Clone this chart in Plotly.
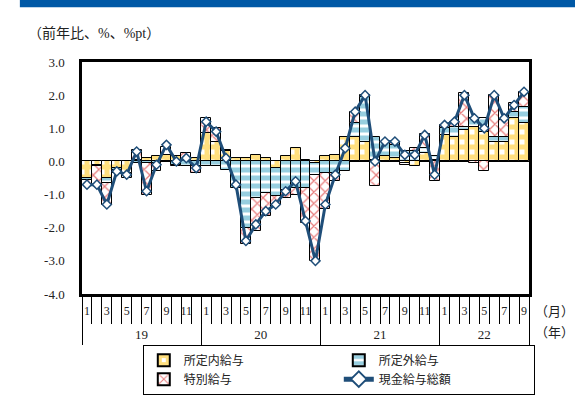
import plotly.graph_objects as go

# Datos: variación interanual (%, pt), enero 2019 - septiembre 2022
anios = ['19', '20', '21', '22']
meses_por_anio = [12, 12, 12, 9]
etiquetas_mes = (['1', '', '3', '', '5', '', '7', '', '9', '', '11', ''] * 3
                 + ['1', '', '3', '', '5', '', '7', '', '9'])
etiquetas_y = ['-4.0', '-3.0', '-2.0', '-1.0', '0.0', '1.0', '2.0', '3.0']
valores_y = [-4, -3, -2, -1, 0, 1, 2, 3]

shoteinai = [-0.5, -0.1, -0.5, -0.2, -0.35, 0.05, 0.1, 0.15, 0.2, 0.15, 0.05, 0.1,
             0.85, 0.6, 0.3, 0.1, 0.1, 0.2, 0.1, -0.2, 0.15, 0.4, 0.05, -0.05,
             0.15, 0.2, 0.75, 0.75, 0.6, 0.05, 0.15, 0.1, -0.05, -0.15, 0.25, 0.05,
             0.8, 0.75, 0.95, 1.05, 0.9, 0.6, 0.6, 1.3, 1.15]
shoteigai = [-0.05, -0.05, -0.15, -0.05, -0.05, -0.05, -0.05, -0.05, 0.0, -0.1, -0.15, -0.15,
             -0.15, -0.15, -0.25, -0.8, -2.0, -1.1, -0.95, -0.85, -0.85, -0.8, -0.8, -0.35,
             -0.35, -0.35, -0.3, 0.4, 1.35, 0.7, 0.45, 0.4, 0.3, 0.3, 0.15, 0.1,
             0.2, 0.3, 0.1, 0.25, 0.4, 0.15, 0.15, 0.2, 0.5]
tokubetsu = [-0.15, -0.55, -0.65, -0.1, -0.1, 0.3, -0.95, -0.25, 0.25, -0.05, 0.2, -0.2,
             0.45, 0.4, 0.05, 0.0, -0.5, -1.0, -0.7, -0.25, -0.25, -0.2, -1.05, -2.6,
             -1.1, -0.25, 0.0, 0.35, 0.05, -0.75, 0.0, 0.05, -0.05, 0.1, 0.42, -0.6,
             0.1, 0.15, 1.0, -0.05, -0.3, 1.25, 0.5, 0.25, 0.45]
sogaku = [-0.7, -0.7, -1.3, -0.3, -0.4, 0.3, -0.9, -0.1, 0.5, 0.0, 0.1, -0.2,
          1.2, 0.9, 0.1, -0.7, -2.4, -1.9, -1.5, -1.3, -0.9, -0.6, -1.8, -3.0,
          -1.3, -0.4, 0.4, 1.5, 2.0, 0.0, 0.6, 0.6, 0.2, 0.2, 0.8, -0.4,
          1.1, 1.2, 2.0, 1.3, 1.0, 2.0, 1.3, 1.7, 2.1]

x = list(range(len(sogaku)))

# límites de año y centros para el eje de años
limites = [-0.5]
centros = []
for n in meses_por_anio:
    centros.append(limites[-1] + n / 2)
    limites.append(limites[-1] + n)

FUENTE_SERIF = 'Liberation Serif, Noto Sans CJK JP'
FUENTE_JP = 'Noto Sans CJK JP'

fig = go.Figure()

fig.add_trace(go.Bar(
    x=x, y=shoteinai, name='所定内給与',
    marker=dict(color='white', line=dict(color='black', width=1),
                pattern=dict(shape='+', fgcolor='#FFBF00', bgcolor='white',
                             size=10, solidity=0.75, fillmode='overlay'))
))
fig.add_trace(go.Bar(
    x=x, y=shoteigai, name='所定外給与',
    marker=dict(color='white', line=dict(color='black', width=1),
                pattern=dict(shape='-', fgcolor='#2F9EBF', bgcolor='white',
                             size=8, solidity=0.625, fillmode='overlay'))
))
fig.add_trace(go.Bar(
    x=x, y=tokubetsu, name='特別給与',
    marker=dict(color='white', line=dict(color='black', width=1),
                pattern=dict(shape='x', fgcolor='#D00000', bgcolor='white',
                             size=8, solidity=0.3, fillmode='overlay'))
))
# la línea va en el eje x2 (mismo rango) para que se dibuje la fila de años
fig.add_trace(go.Scatter(
    x=x, y=sogaku, name='現金給与総額', mode='lines+markers', xaxis='x2',
    line=dict(color='#1F4E79', width=3),
    marker=dict(symbol='diamond', size=7, color='white',
                line=dict(color='#1F4E79', width=1.5))
))

fig.update_layout(
    width=575, height=406,
    margin=dict(l=82, r=46, t=62, b=111),
    paper_bgcolor='white', plot_bgcolor='white',
    barmode='relative', bargap=0,
    font=dict(family=FUENTE_SERIF, size=13, color='#222222'),
    xaxis=dict(
        range=[-0.5, len(x) - 0.5], tickmode='array', tickvals=x, ticktext=etiquetas_mes,
        ticks='', showline=True, linecolor='black', linewidth=2.5, mirror=True,
        showgrid=False, zeroline=False, tickfont=dict(size=12), ticklabelstandoff=4,
        minor=dict(tickmode='array', tickvals=[-0.5 + i for i in range(len(x) + 1)],
                   ticks='outside', ticklen=27, tickwidth=1, tickcolor='black', showgrid=False)
    ),
    xaxis2=dict(
        overlaying='x', anchor='y', side='bottom', matches='x',
        tickmode='array', tickvals=centros, ticktext=anios, ticks='',
        showline=False, showgrid=False, zeroline=False,
        tickfont=dict(size=13), ticklabelstandoff=31,
        minor=dict(tickmode='array', tickvals=limites, ticks='outside',
                   ticklen=50, tickwidth=1, tickcolor='black', showgrid=False)
    ),
    yaxis=dict(
        range=[-4, 3], tickmode='array', tickvals=valores_y, ticktext=etiquetas_y,
        ticks='', showline=True, linecolor='black', linewidth=2.5, mirror=True,
        showgrid=False, zeroline=True, zerolinecolor='black', zerolinewidth=1,
        tickfont=dict(size=13), ticklabelstandoff=12
    ),
    legend=dict(
        orientation='h', x=0.136, xanchor='left', y=-0.213, yanchor='top',
        bordercolor='black', borderwidth=1, bgcolor='white',
        font=dict(family=FUENTE_JP, size=12, color='#222222'),
        entrywidth=150, traceorder='normal', itemsizing='constant'
    ),
    showlegend=True,
)

# franja azul superior
fig.add_shape(type='rect', xref='paper', yref='paper', x0=-0.139, x1=1.11,
              y0=1.236, y1=1.3, fillcolor='#0058A6', line=dict(width=0), layer='above')

fig.add_annotation(text='（前年比、%、%pt）', xref='paper', yref='paper', x=-0.125, y=1.125,
                   xanchor='left', yanchor='middle', showarrow=False,
                   font=dict(family=FUENTE_SERIF, size=14))
fig.add_annotation(text='（月）', xref='paper', yref='paper', x=1.01, y=-0.075,
                   xanchor='left', yanchor='middle', showarrow=False,
                   font=dict(family=FUENTE_SERIF, size=13))
fig.add_annotation(text='（年）', xref='paper', yref='paper', x=1.01, y=-0.165,
                   xanchor='left', yanchor='middle', showarrow=False,
                   font=dict(family=FUENTE_SERIF, size=13))

# sin margen del body para que la figura ocupe la ventana entera
fig.write_html("out.html", config={'displayModeBar': False},
               post_script="document.body.style.margin='0';")
